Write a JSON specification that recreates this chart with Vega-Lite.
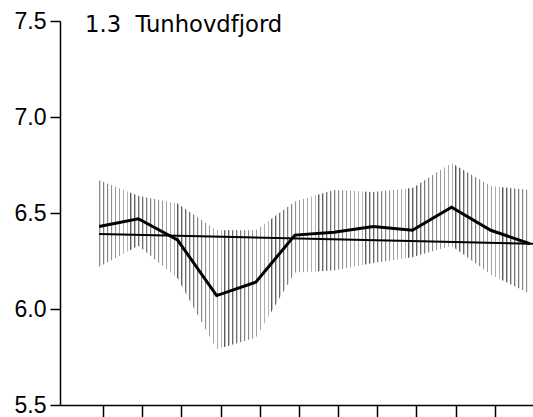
{
 "$schema": "https://vega.github.io/schema/vega-lite/v6.json",
 "width": 473,
 "height": 384,
 "autosize": {"type": "none"},
 "padding": {"left": 60, "top": 21, "right": 0, "bottom": 12},
 "background": "white",
 "config": {
  "view": {"stroke": null},
  "font": "Liberation Sans",
  "axis": {"domainColor": "black", "domainWidth": 1.5, "tickColor": "black", "tickWidth": 1.5, "labelFont": "Liberation Sans", "labelFontSize": 23, "labelColor": "black", "grid": false, "labelPadding": 4},
  "axisY": {"tickSize": 10},
  "axisX": {"tickSize": 12, "labels": false, "tickOffset": 4}
 },
 "title": {"text": "1.3\u00a0\u00a0Tunhovdfjord", "anchor": "start", "frame": "group", "dx": 25, "offset": -45, "fontSize": 22.7, "fontWeight": "normal", "font": "DejaVu Sans", "color": "black", "baseline": "alphabetic"},
 "datasets": {
  "monthly": [
   {"month": 1, "mean": 6.43, "lo": 6.22, "hi": 6.67},
   {"month": 2, "mean": 6.47, "lo": 6.33, "hi": 6.59},
   {"month": 3, "mean": 6.36, "lo": 6.16, "hi": 6.55},
   {"month": 4, "mean": 6.07, "lo": 5.79, "hi": 6.41},
   {"month": 5, "mean": 6.14, "lo": 5.85, "hi": 6.41},
   {"month": 6, "mean": 6.385, "lo": 6.19, "hi": 6.56},
   {"month": 7, "mean": 6.40, "lo": 6.20, "hi": 6.62},
   {"month": 8, "mean": 6.43, "lo": 6.24, "hi": 6.61},
   {"month": 9, "mean": 6.41, "lo": 6.27, "hi": 6.63},
   {"month": 10, "mean": 6.53, "lo": 6.33, "hi": 6.76},
   {"month": 11, "mean": 6.41, "lo": 6.18, "hi": 6.64},
   {"month": 12, "mean": 6.34, "lo": 6.08, "hi": 6.62}
  ],
  "trend": [
   {"month": 1, "value": 6.39},
   {"month": 12.08, "value": 6.34}
  ]
 },
 "encoding": {
  "x": {"field": "month", "type": "quantitative", "scale": {"domain": [0, 12.08], "nice": false, "zero": false}, "axis": {"values": [1, 2, 3, 4, 5, 6, 7, 8, 9, 10, 11], "title": null}}
 },
 "layer": [
  {
   "data": {"name": "monthly"},
   "mark": {"type": "area", "opacity": 1, "color": {"gradient": "linear", "x1": 0, "y1": 0, "x2": 1, "y2": 0, "stops": [
{"offset":0,"color":"#555"},{"offset":0.004,"color":"#fff"},{"offset":0.0091,"color":"#fff"},
{"offset":0.0091,"color":"#555"},{"offset":0.0131,"color":"#fff"},{"offset":0.0182,"color":"#fff"},
{"offset":0.0182,"color":"#555"},{"offset":0.0222,"color":"#fff"},{"offset":0.0273,"color":"#fff"},
{"offset":0.0273,"color":"#555"},{"offset":0.0313,"color":"#fff"},{"offset":0.0364,"color":"#fff"},
{"offset":0.0364,"color":"#555"},{"offset":0.0404,"color":"#fff"},{"offset":0.0455,"color":"#fff"},
{"offset":0.0455,"color":"#555"},{"offset":0.0495,"color":"#fff"},{"offset":0.0545,"color":"#fff"},
{"offset":0.0545,"color":"#555"},{"offset":0.0585,"color":"#fff"},{"offset":0.0636,"color":"#fff"},
{"offset":0.0636,"color":"#555"},{"offset":0.0676,"color":"#fff"},{"offset":0.0727,"color":"#fff"},
{"offset":0.0727,"color":"#555"},{"offset":0.0767,"color":"#fff"},{"offset":0.0818,"color":"#fff"},
{"offset":0.0818,"color":"#555"},{"offset":0.0858,"color":"#fff"},{"offset":0.0909,"color":"#fff"},
{"offset":0.0909,"color":"#555"},{"offset":0.0949,"color":"#fff"},{"offset":0.1,"color":"#fff"},
{"offset":0.1,"color":"#555"},{"offset":0.104,"color":"#fff"},{"offset":0.1091,"color":"#fff"},
{"offset":0.1091,"color":"#555"},{"offset":0.1131,"color":"#fff"},{"offset":0.1182,"color":"#fff"},
{"offset":0.1182,"color":"#555"},{"offset":0.1222,"color":"#fff"},{"offset":0.1273,"color":"#fff"},
{"offset":0.1273,"color":"#555"},{"offset":0.1313,"color":"#fff"},{"offset":0.1364,"color":"#fff"},
{"offset":0.1364,"color":"#555"},{"offset":0.1404,"color":"#fff"},{"offset":0.1455,"color":"#fff"},
{"offset":0.1455,"color":"#555"},{"offset":0.1495,"color":"#fff"},{"offset":0.1545,"color":"#fff"},
{"offset":0.1545,"color":"#555"},{"offset":0.1585,"color":"#fff"},{"offset":0.1636,"color":"#fff"},
{"offset":0.1636,"color":"#555"},{"offset":0.1676,"color":"#fff"},{"offset":0.1727,"color":"#fff"},
{"offset":0.1727,"color":"#555"},{"offset":0.1767,"color":"#fff"},{"offset":0.1818,"color":"#fff"},
{"offset":0.1818,"color":"#555"},{"offset":0.1858,"color":"#fff"},{"offset":0.1909,"color":"#fff"},
{"offset":0.1909,"color":"#555"},{"offset":0.1949,"color":"#fff"},{"offset":0.2,"color":"#fff"},
{"offset":0.2,"color":"#555"},{"offset":0.204,"color":"#fff"},{"offset":0.2091,"color":"#fff"},
{"offset":0.2091,"color":"#555"},{"offset":0.2131,"color":"#fff"},{"offset":0.2182,"color":"#fff"},
{"offset":0.2182,"color":"#555"},{"offset":0.2222,"color":"#fff"},{"offset":0.2273,"color":"#fff"},
{"offset":0.2273,"color":"#555"},{"offset":0.2313,"color":"#fff"},{"offset":0.2364,"color":"#fff"},
{"offset":0.2364,"color":"#555"},{"offset":0.2404,"color":"#fff"},{"offset":0.2455,"color":"#fff"},
{"offset":0.2455,"color":"#555"},{"offset":0.2495,"color":"#fff"},{"offset":0.2545,"color":"#fff"},
{"offset":0.2545,"color":"#555"},{"offset":0.2585,"color":"#fff"},{"offset":0.2636,"color":"#fff"},
{"offset":0.2636,"color":"#555"},{"offset":0.2676,"color":"#fff"},{"offset":0.2727,"color":"#fff"},
{"offset":0.2727,"color":"#555"},{"offset":0.2767,"color":"#fff"},{"offset":0.2818,"color":"#fff"},
{"offset":0.2818,"color":"#555"},{"offset":0.2858,"color":"#fff"},{"offset":0.2909,"color":"#fff"},
{"offset":0.2909,"color":"#555"},{"offset":0.2949,"color":"#fff"},{"offset":0.3,"color":"#fff"},
{"offset":0.3,"color":"#555"},{"offset":0.304,"color":"#fff"},{"offset":0.3091,"color":"#fff"},
{"offset":0.3091,"color":"#555"},{"offset":0.3131,"color":"#fff"},{"offset":0.3182,"color":"#fff"},
{"offset":0.3182,"color":"#555"},{"offset":0.3222,"color":"#fff"},{"offset":0.3273,"color":"#fff"},
{"offset":0.3273,"color":"#555"},{"offset":0.3313,"color":"#fff"},{"offset":0.3364,"color":"#fff"},
{"offset":0.3364,"color":"#555"},{"offset":0.3404,"color":"#fff"},{"offset":0.3455,"color":"#fff"},
{"offset":0.3455,"color":"#555"},{"offset":0.3495,"color":"#fff"},{"offset":0.3545,"color":"#fff"},
{"offset":0.3545,"color":"#555"},{"offset":0.3585,"color":"#fff"},{"offset":0.3636,"color":"#fff"},
{"offset":0.3636,"color":"#555"},{"offset":0.3676,"color":"#fff"},{"offset":0.3727,"color":"#fff"},
{"offset":0.3727,"color":"#555"},{"offset":0.3767,"color":"#fff"},{"offset":0.3818,"color":"#fff"},
{"offset":0.3818,"color":"#555"},{"offset":0.3858,"color":"#fff"},{"offset":0.3909,"color":"#fff"},
{"offset":0.3909,"color":"#555"},{"offset":0.3949,"color":"#fff"},{"offset":0.4,"color":"#fff"},
{"offset":0.4,"color":"#555"},{"offset":0.404,"color":"#fff"},{"offset":0.4091,"color":"#fff"},
{"offset":0.4091,"color":"#555"},{"offset":0.4131,"color":"#fff"},{"offset":0.4182,"color":"#fff"},
{"offset":0.4182,"color":"#555"},{"offset":0.4222,"color":"#fff"},{"offset":0.4273,"color":"#fff"},
{"offset":0.4273,"color":"#555"},{"offset":0.4313,"color":"#fff"},{"offset":0.4364,"color":"#fff"},
{"offset":0.4364,"color":"#555"},{"offset":0.4404,"color":"#fff"},{"offset":0.4455,"color":"#fff"},
{"offset":0.4455,"color":"#555"},{"offset":0.4495,"color":"#fff"},{"offset":0.4545,"color":"#fff"},
{"offset":0.4545,"color":"#555"},{"offset":0.4585,"color":"#fff"},{"offset":0.4636,"color":"#fff"},
{"offset":0.4636,"color":"#555"},{"offset":0.4676,"color":"#fff"},{"offset":0.4727,"color":"#fff"},
{"offset":0.4727,"color":"#555"},{"offset":0.4767,"color":"#fff"},{"offset":0.4818,"color":"#fff"},
{"offset":0.4818,"color":"#555"},{"offset":0.4858,"color":"#fff"},{"offset":0.4909,"color":"#fff"},
{"offset":0.4909,"color":"#555"},{"offset":0.4949,"color":"#fff"},{"offset":0.5,"color":"#fff"},
{"offset":0.5,"color":"#555"},{"offset":0.504,"color":"#fff"},{"offset":0.5091,"color":"#fff"},
{"offset":0.5091,"color":"#555"},{"offset":0.5131,"color":"#fff"},{"offset":0.5182,"color":"#fff"},
{"offset":0.5182,"color":"#555"},{"offset":0.5222,"color":"#fff"},{"offset":0.5273,"color":"#fff"},
{"offset":0.5273,"color":"#555"},{"offset":0.5313,"color":"#fff"},{"offset":0.5364,"color":"#fff"},
{"offset":0.5364,"color":"#555"},{"offset":0.5404,"color":"#fff"},{"offset":0.5455,"color":"#fff"},
{"offset":0.5455,"color":"#555"},{"offset":0.5495,"color":"#fff"},{"offset":0.5545,"color":"#fff"},
{"offset":0.5545,"color":"#555"},{"offset":0.5585,"color":"#fff"},{"offset":0.5636,"color":"#fff"},
{"offset":0.5636,"color":"#555"},{"offset":0.5676,"color":"#fff"},{"offset":0.5727,"color":"#fff"},
{"offset":0.5727,"color":"#555"},{"offset":0.5767,"color":"#fff"},{"offset":0.5818,"color":"#fff"},
{"offset":0.5818,"color":"#555"},{"offset":0.5858,"color":"#fff"},{"offset":0.5909,"color":"#fff"},
{"offset":0.5909,"color":"#555"},{"offset":0.5949,"color":"#fff"},{"offset":0.6,"color":"#fff"},
{"offset":0.6,"color":"#555"},{"offset":0.604,"color":"#fff"},{"offset":0.6091,"color":"#fff"},
{"offset":0.6091,"color":"#555"},{"offset":0.6131,"color":"#fff"},{"offset":0.6182,"color":"#fff"},
{"offset":0.6182,"color":"#555"},{"offset":0.6222,"color":"#fff"},{"offset":0.6273,"color":"#fff"},
{"offset":0.6273,"color":"#555"},{"offset":0.6313,"color":"#fff"},{"offset":0.6364,"color":"#fff"},
{"offset":0.6364,"color":"#555"},{"offset":0.6404,"color":"#fff"},{"offset":0.6455,"color":"#fff"},
{"offset":0.6455,"color":"#555"},{"offset":0.6495,"color":"#fff"},{"offset":0.6545,"color":"#fff"},
{"offset":0.6545,"color":"#555"},{"offset":0.6585,"color":"#fff"},{"offset":0.6636,"color":"#fff"},
{"offset":0.6636,"color":"#555"},{"offset":0.6676,"color":"#fff"},{"offset":0.6727,"color":"#fff"},
{"offset":0.6727,"color":"#555"},{"offset":0.6767,"color":"#fff"},{"offset":0.6818,"color":"#fff"},
{"offset":0.6818,"color":"#555"},{"offset":0.6858,"color":"#fff"},{"offset":0.6909,"color":"#fff"},
{"offset":0.6909,"color":"#555"},{"offset":0.6949,"color":"#fff"},{"offset":0.7,"color":"#fff"},
{"offset":0.7,"color":"#555"},{"offset":0.704,"color":"#fff"},{"offset":0.7091,"color":"#fff"},
{"offset":0.7091,"color":"#555"},{"offset":0.7131,"color":"#fff"},{"offset":0.7182,"color":"#fff"},
{"offset":0.7182,"color":"#555"},{"offset":0.7222,"color":"#fff"},{"offset":0.7273,"color":"#fff"},
{"offset":0.7273,"color":"#555"},{"offset":0.7313,"color":"#fff"},{"offset":0.7364,"color":"#fff"},
{"offset":0.7364,"color":"#555"},{"offset":0.7404,"color":"#fff"},{"offset":0.7455,"color":"#fff"},
{"offset":0.7455,"color":"#555"},{"offset":0.7495,"color":"#fff"},{"offset":0.7545,"color":"#fff"},
{"offset":0.7545,"color":"#555"},{"offset":0.7585,"color":"#fff"},{"offset":0.7636,"color":"#fff"},
{"offset":0.7636,"color":"#555"},{"offset":0.7676,"color":"#fff"},{"offset":0.7727,"color":"#fff"},
{"offset":0.7727,"color":"#555"},{"offset":0.7767,"color":"#fff"},{"offset":0.7818,"color":"#fff"},
{"offset":0.7818,"color":"#555"},{"offset":0.7858,"color":"#fff"},{"offset":0.7909,"color":"#fff"},
{"offset":0.7909,"color":"#555"},{"offset":0.7949,"color":"#fff"},{"offset":0.8,"color":"#fff"},
{"offset":0.8,"color":"#555"},{"offset":0.804,"color":"#fff"},{"offset":0.8091,"color":"#fff"},
{"offset":0.8091,"color":"#555"},{"offset":0.8131,"color":"#fff"},{"offset":0.8182,"color":"#fff"},
{"offset":0.8182,"color":"#555"},{"offset":0.8222,"color":"#fff"},{"offset":0.8273,"color":"#fff"},
{"offset":0.8273,"color":"#555"},{"offset":0.8313,"color":"#fff"},{"offset":0.8364,"color":"#fff"},
{"offset":0.8364,"color":"#555"},{"offset":0.8404,"color":"#fff"},{"offset":0.8455,"color":"#fff"},
{"offset":0.8455,"color":"#555"},{"offset":0.8495,"color":"#fff"},{"offset":0.8545,"color":"#fff"},
{"offset":0.8545,"color":"#555"},{"offset":0.8585,"color":"#fff"},{"offset":0.8636,"color":"#fff"},
{"offset":0.8636,"color":"#555"},{"offset":0.8676,"color":"#fff"},{"offset":0.8727,"color":"#fff"},
{"offset":0.8727,"color":"#555"},{"offset":0.8767,"color":"#fff"},{"offset":0.8818,"color":"#fff"},
{"offset":0.8818,"color":"#555"},{"offset":0.8858,"color":"#fff"},{"offset":0.8909,"color":"#fff"},
{"offset":0.8909,"color":"#555"},{"offset":0.8949,"color":"#fff"},{"offset":0.9,"color":"#fff"},
{"offset":0.9,"color":"#555"},{"offset":0.904,"color":"#fff"},{"offset":0.9091,"color":"#fff"},
{"offset":0.9091,"color":"#555"},{"offset":0.9131,"color":"#fff"},{"offset":0.9182,"color":"#fff"},
{"offset":0.9182,"color":"#555"},{"offset":0.9222,"color":"#fff"},{"offset":0.9273,"color":"#fff"},
{"offset":0.9273,"color":"#555"},{"offset":0.9313,"color":"#fff"},{"offset":0.9364,"color":"#fff"},
{"offset":0.9364,"color":"#555"},{"offset":0.9404,"color":"#fff"},{"offset":0.9455,"color":"#fff"},
{"offset":0.9455,"color":"#555"},{"offset":0.9495,"color":"#fff"},{"offset":0.9545,"color":"#fff"},
{"offset":0.9545,"color":"#555"},{"offset":0.9585,"color":"#fff"},{"offset":0.9636,"color":"#fff"},
{"offset":0.9636,"color":"#555"},{"offset":0.9676,"color":"#fff"},{"offset":0.9727,"color":"#fff"},
{"offset":0.9727,"color":"#555"},{"offset":0.9767,"color":"#fff"},{"offset":0.9818,"color":"#fff"},
{"offset":0.9818,"color":"#555"},{"offset":0.9858,"color":"#fff"},{"offset":0.9909,"color":"#fff"},
{"offset":0.9909,"color":"#555"},{"offset":0.9949,"color":"#fff"},{"offset":1,"color":"#fff"}
   ]}},
   "encoding": {
    "y": {"field": "lo", "type": "quantitative", "scale": {"domain": [5.5, 7.5], "nice": false, "zero": false}, "axis": {"values": [5.5, 6, 6.5, 7, 7.5], "format": ".1f", "title": null}},
    "y2": {"field": "hi"}
   }
  },
  {
   "data": {"name": "trend"},
   "mark": {"type": "line", "color": "black", "strokeWidth": 2},
   "encoding": {
    "y": {"field": "value", "type": "quantitative", "axis": {"values": [5.5, 6, 6.5, 7, 7.5], "format": ".1f", "title": null}}
   }
  },
  {
   "data": {"name": "monthly"},
   "mark": {"type": "line", "color": "black", "strokeWidth": 3},
   "encoding": {
    "y": {"field": "mean", "type": "quantitative", "axis": {"values": [5.5, 6, 6.5, 7, 7.5], "format": ".1f", "title": null}}
   }
  }
 ]
}
